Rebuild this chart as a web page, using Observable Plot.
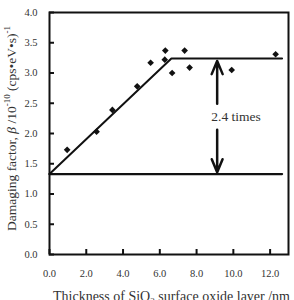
<!DOCTYPE html>
<html>
<head>
<meta charset="utf-8">
<script src="https://cdn.jsdelivr.net/npm/d3@7"></script>
<script src="https://cdn.jsdelivr.net/npm/@observablehq/plot@0.6"></script>
<style>
  body { margin: 0; background: #fff; }
  svg text { font-family: "Liberation Serif", "Times New Roman", serif; }
</style>
</head>
<body>
<div id="chart"></div>
<script>
// Measured points (thickness nm, damaging factor)
const thickness = [0.96, 2.56, 3.42, 4.77, 5.5, 6.3, 6.27, 6.67, 7.35, 7.62, 9.91, 12.3];
const damaging  = [1.73, 2.03, 2.39, 2.78, 3.17, 3.37, 3.22, 3.00, 3.37, 3.09, 3.05, 3.31];

// Fitted bilinear line
const fitX = [0, 6.63, 12.65];
const fitY = [1.33, 3.24, 3.24];

// Reference (bare) level
const baseX = [0, 12.65];
const baseY = [1.33, 1.33];

// Double arrow "2.4 times"
const arrowX = 9.12;
const arrowFrom = [2.49, 2.06];
const arrowTo = [3.20, 1.36];
const annotText = "2.4 times";
const annotX = 10.15;
const annotY = 2.27;

const xTicks = [0, 2, 4, 6, 8, 10, 12];
const yTicks = [0, 0.5, 1, 1.5, 2, 2.5, 3, 3.5, 4];

const points = thickness.map((x, i) => ({x, y: damaging[i]}));
const fit = fitX.map((x, i) => ({x, y: fitY[i]}));
const base = baseX.map((x, i) => ({x, y: baseY[i]}));
const arrows = arrowFrom.map((y1, i) => ({x: arrowX, y1, y2: arrowTo[i]}));

const ink = "#111";
const serif = "'Liberation Serif', 'Times New Roman', serif";
const W = 294, H = 300, mL = 49, mR = 6, mT = 12, mB = 46, tick = 5;
const plot = Plot.plot({
  width: W,
  height: H,
  marginLeft: mL,
  marginRight: mR,
  marginTop: mT,
  marginBottom: mB,
  style: {fontFamily: serif, fontSize: "10.5px", color: "#333", background: "#fff", overflow: "visible"},
  x: {domain: [0, 13]},
  y: {domain: [0, 4]},
  marks: [
    Plot.axisX({ticks: xTicks, tickFormat: d3.format(".1f"), tickSize: 0, tickPadding: 15, label: null, fontFamily: serif}),
    Plot.axisY({ticks: yTicks, tickFormat: d3.format(".1f"), tickSize: 0, tickPadding: 12, label: null, fontFamily: serif}),
    Plot.tickX(xTicks, {x: d => d, stroke: ink, strokeWidth: 2, insetTop: H - mT - mB - tick}),
    Plot.tickY(yTicks, {y: d => d, stroke: ink, strokeWidth: 2, insetRight: W - mL - mR - tick}),
    Plot.line(base, {x: "x", y: "y", stroke: ink, strokeWidth: 2.3}),
    Plot.line(fit, {x: "x", y: "y", stroke: ink, strokeWidth: 2}),
    Plot.dot(points, {x: "x", y: "y", symbol: "diamond2", r: 3, fill: ink, stroke: "none"}),
    Plot.arrow(arrows, {x1: "x", x2: "x", y1: "y1", y2: "y2", stroke: ink, strokeWidth: 2.5, headLength: 9, headAngle: 45, bend: false}),
    Plot.text([annotText], {x: annotX, y: annotY, text: d => d, fontSize: 13.5, fill: "#333", fontFamily: serif}),
    Plot.frame({stroke: ink, strokeWidth: 2})
  ]
});

const svg = d3.select(plot);
// Y axis label
const yl = svg.append("text")
  .attr("transform", "translate(13,128.5) rotate(-90)")
  .attr("text-anchor", "middle")
  .attr("dominant-baseline", "middle")
  .attr("font-size", 13.5)
  .attr("font-family", serif)
  .attr("fill", "#333");
yl.append("tspan").text("Damaging factor, ");
yl.append("tspan").attr("font-style", "italic").text("β");
yl.append("tspan").text(" /10");
yl.append("tspan").attr("font-size", 9).attr("dy", -5).text("-10");
yl.append("tspan").attr("dy", 5).text(" (cps•eV•s)");
yl.append("tspan").attr("font-size", 9).attr("dy", -5).text("-1");

// X axis label (partly below the visible area, as in the reference)
const xl = svg.append("text")
  .attr("x", 53)
  .attr("y", 301)
  .attr("text-anchor", "start")
  .attr("font-size", 14)
  .attr("font-family", serif)
  .attr("fill", "#333");
xl.append("tspan").text("Thickness of SiO");
xl.append("tspan").attr("font-size", 9).attr("dy", 3).text("2");
xl.append("tspan").attr("dy", -3).text(" surface oxide layer /nm");

document.getElementById("chart").appendChild(plot);
</script>
</body>
</html>
